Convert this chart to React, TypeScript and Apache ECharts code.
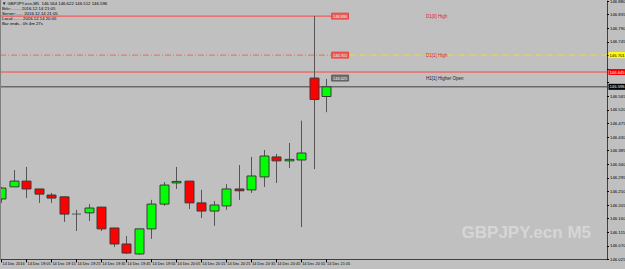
import React, { useEffect, useRef } from 'react';
import * as echarts from 'echarts';

// ---- data ----
const barTimes = ['18:55','19:00','19:05','19:10','19:15','19:20','19:25','19:30','19:35','19:40','19:45','19:50','19:55','20:00','20:05','20:10','20:15','20:20','20:25','20:30','20:35','20:40','20:45','20:50','20:55','21:00','21:05'];
const opens  = [146.225,146.265,146.284,146.258,146.238,146.232,146.175,146.179,146.198,146.129,146.076,146.043,146.126,146.208,146.280,146.284,146.212,146.185,146.202,146.258,146.255,146.298,146.364,146.352,146.354,146.625,146.564];
const closes = [146.261,146.284,146.258,146.241,146.228,146.175,146.175,146.195,146.126,146.076,146.046,146.126,146.208,146.271,146.283,146.212,146.185,146.205,146.258,146.252,146.301,146.367,146.351,146.356,146.377,146.554,146.596];
const lows   = [146.212,146.265,146.228,146.212,146.212,146.149,146.119,146.152,146.119,146.066,146.043,146.040,146.093,146.202,146.258,146.192,146.162,146.136,146.189,146.222,146.245,146.265,146.278,146.327,146.132,146.324,146.512];
const highs  = [146.265,146.321,146.331,146.258,146.245,146.232,146.189,146.208,146.198,146.129,146.102,146.126,146.222,146.281,146.331,146.284,146.255,146.218,146.274,146.337,146.364,146.387,146.374,146.410,146.484,146.830,146.622];
const xTickLabels = ['14 Dec 2016','14 Dec 19:05','14 Dec 19:15','14 Dec 19:25','14 Dec 19:35','14 Dec 19:45','14 Dec 19:55','14 Dec 20:05','14 Dec 20:15','14 Dec 20:25','14 Dec 20:35','14 Dec 20:45','14 Dec 20:55','14 Dec 21:05'];
const futureSlots = 22;
const yMin = 146.025;
const yMax = 146.880;
const yStep = 0.045;

const annoPrices = [146.830, 146.701, 146.625];
const annoBoxTexts = ['146.830', '146.701', '146.625'];
const annoNames = ['D1[0] High', 'D1[1] High', 'H1[1] Higher Open'];
const redLevel = 146.645;
const bidPrice = 146.596;
const infoLines = [
  '\u25BC GBPJPY.ecn,M5  146.564 146.622 146.512 146.596',
  'Brkr:........ 2016.12.14 21:05',
  'Server:...... 2016.12.14 21:05',
  'Local:....... 2016.12.14 20:05',
  'Bar ends.. 0h 4m 27s',
];

const FONT = '"Liberation Sans", Arial, sans-serif';

export default function App() {
  const ref = useRef<HTMLDivElement>(null);
  useEffect(() => {
    if (!ref.current) return;
    const chart = echarts.init(ref.current, null, { renderer: 'svg' });
    const categories = [...barTimes, ...Array.from({ length: futureSlots }, () => '')];
    const candleData = barTimes.map((_, i) => [i, opens[i], closes[i], lows[i], highs[i]]);
    const tickShown = (idx: number) => idx % 2 === 0 && idx <= barTimes.length - 1;
    const tagPrices = [annoPrices[1], redLevel, bidPrice];
    const hiddenByTag = (v: number) => tagPrices.some((p) => Math.abs(p - v) < 0.016);

    const option: any = {
      animation: false,
      backgroundColor: '#c0c0c0',
      grid: { left: -4.75, right: 18, top: 1, bottom: 9.6, containLabel: false, outerBoundsMode: 'none' },
      xAxis: {
        type: 'category',
        data: categories,
        boundaryGap: true,
        axisLine: { show: true, lineStyle: { color: '#404040', width: 1 } },
        axisTick: { show: true, alignWithLabel: true, interval: (idx: number) => tickShown(idx), length: 3, lineStyle: { color: '#000' } },
        axisLabel: {
          show: true,
          interval: (idx: number) => tickShown(idx),
          formatter: (_v: string, idx: number) => (tickShown(idx) ? xTickLabels[idx / 2] : ''),
          align: 'left',
          fontSize: 3.9,
          fontFamily: FONT,
          color: '#000',
          margin: 2.5,
          padding: [0, 0, 0, 1],
          hideOverlap: false,
          showMinLabel: true,
        },
        splitLine: { show: false },
      },
      yAxis: {
        type: 'value',
        position: 'right',
        min: yMin,
        max: yMax,
        interval: yStep,
        scale: true,
        axisLine: { show: true, lineStyle: { color: '#404040', width: 1 } },
        axisTick: { show: true, length: 2, lineStyle: { color: '#000' } },
        axisLabel: {
          fontSize: 4.3, fontFamily: FONT, color: '#000', margin: 3,
          formatter: (v: number) => (hiddenByTag(v) ? '' : v.toFixed(3)),
          hideOverlap: false,
        },
        splitLine: { show: false },
      },
      graphic: [
        { type: 'rect', left: 0, top: 0, shape: { width: 1, height: 260 }, style: { fill: '#808080' }, z: 100 },
        ...infoLines.map((t, i) => ({
          type: 'text', left: 2, top: 1 + i * 5,
          style: { text: t, fill: '#000', font: `4.3px ${FONT}` }, z: 100,
        })),
        {
          type: 'text', right: 34, top: 224,
          style: { text: 'GBPJPY.ecn M5', fill: '#d6d6d6', font: `bold 17px ${FONT}` }, z: 1,
        },
      ],
      series: [
        {
          type: 'custom',
          name: 'levels',
          clip: false,
          z: 2,
          data: [[0]],
          renderItem: (params: any, api: any) => {
            const cs = params.coordSys;
            const x0 = cs.x < 0 ? 0 : cs.x;
            const xEnd = cs.x + cs.width;
            const bw = api.coord([27, yMin])[0] - api.coord([26, yMin])[0];
            const boxX = api.coord([26, yMin])[0] + 0.44 * bw;
            const textX = api.coord([34, yMin])[0];
            const y = (p: number) => api.coord([0, p])[1];
            const ch: any[] = [];
            ch.push({ type: 'line', shape: { x1: x0, y1: y(bidPrice), x2: xEnd, y2: y(bidPrice) }, style: { stroke: '#6a6a6a', lineWidth: 1.5 } });
            ch.push({ type: 'line', shape: { x1: x0, y1: y(redLevel), x2: xEnd, y2: y(redLevel) }, style: { stroke: '#ff4040', lineWidth: 1 } });
            ch.push({ type: 'line', shape: { x1: x0, y1: y(annoPrices[0]), x2: boxX, y2: y(annoPrices[0]) }, style: { stroke: '#ff4040', lineWidth: 1 } });
            ch.push({ type: 'line', shape: { x1: x0, y1: y(annoPrices[1]), x2: boxX, y2: y(annoPrices[1]) }, style: { stroke: '#e07050', lineWidth: 1, lineDash: [6, 2, 1, 2] } });
            ch.push({ type: 'line', shape: { x1: boxX + 17, y1: y(annoPrices[1]), x2: xEnd, y2: y(annoPrices[1]) }, style: { stroke: '#e8e800', lineWidth: 1, lineDash: [6, 2, 1, 2] } });
            annoPrices.forEach((p, k) => {
              const yy = y(p);
              const isGray = k === 2;
              ch.push({ type: 'rect', shape: { x: boxX, y: yy - 3, width: 17, height: 6 }, style: { fill: isGray ? '#707070' : '#e06060', stroke: isGray ? '#505050' : '#ff3030', lineWidth: 0.8 } });
              ch.push({ type: 'text', x: boxX + 8.5, y: yy, style: { text: annoBoxTexts[k], fill: '#f4f4f4', font: `3.9px ${FONT}`, align: 'center', verticalAlign: 'middle' } });
              ch.push({ type: 'text', x: textX, y: yy, style: { text: annoNames[k], fill: isGray ? '#202020' : '#e02020', font: `4.5px ${FONT}`, align: 'left', verticalAlign: 'middle' } });
            });
            const tag = (p: number, txt: string, bg: string, fg: string) => {
              const yy = y(p);
              ch.push({ type: 'rect', shape: { x: xEnd + 1.5, y: yy - 3, width: 22, height: 6 }, style: { fill: bg } });
              ch.push({ type: 'text', x: xEnd + 2.5, y: yy, style: { text: txt, fill: fg, font: `4.2px ${FONT}`, align: 'left', verticalAlign: 'middle' } });
            };
            tag(annoPrices[1], annoBoxTexts[1], '#ffff00', '#000');
            tag(redLevel, redLevel.toFixed(3), '#ff0000', '#fff');
            tag(bidPrice, bidPrice.toFixed(3), '#000000', '#fff');
            return { type: 'group', children: ch };
          },
        },
        {
          type: 'custom',
          name: 'GBPJPY.ecn,M5',
          clip: false,
          z: 5,
          encode: { x: 0, y: [1, 2, 3, 4] },
          data: candleData,
          renderItem: (_params: any, api: any) => {
            const i = api.value(0);
            const o = api.value(1), c = api.value(2), l = api.value(3), h = api.value(4);
            const x = Math.round(api.coord([i, o])[0]) + 0.5;
            const yO = api.coord([i, o])[1];
            const yC = api.coord([i, c])[1];
            const yL = api.coord([i, l])[1];
            const yH = api.coord([i, h])[1];
            const w = 9;
            const children: any[] = [
              { type: 'line', shape: { x1: x, y1: yH, x2: x, y2: yL }, style: { stroke: '#555555', lineWidth: 1 } },
            ];
            if (o === c) {
              children.push({ type: 'line', shape: { x1: x - w / 2, y1: yO, x2: x + w / 2, y2: yO }, style: { stroke: '#555555', lineWidth: 1 } });
            } else {
              const top = Math.min(yO, yC);
              const hgt = Math.max(Math.abs(yC - yO), 1.5);
              children.push({ type: 'rect', shape: { x: x - w / 2, y: top, width: w, height: hgt }, style: { fill: c > o ? '#00ff00' : '#ff0000', stroke: '#3a3a3a', lineWidth: 1 } });
            }
            return { type: 'group', children };
          },
        },
      ],
    };
    chart.setOption(option);
    return () => chart.dispose();
  }, []);
  return <div ref={ref} style={{ position: 'fixed', left: 0, top: 0, width: 625, height: 269, background: '#c0c0c0' }} />;
}
